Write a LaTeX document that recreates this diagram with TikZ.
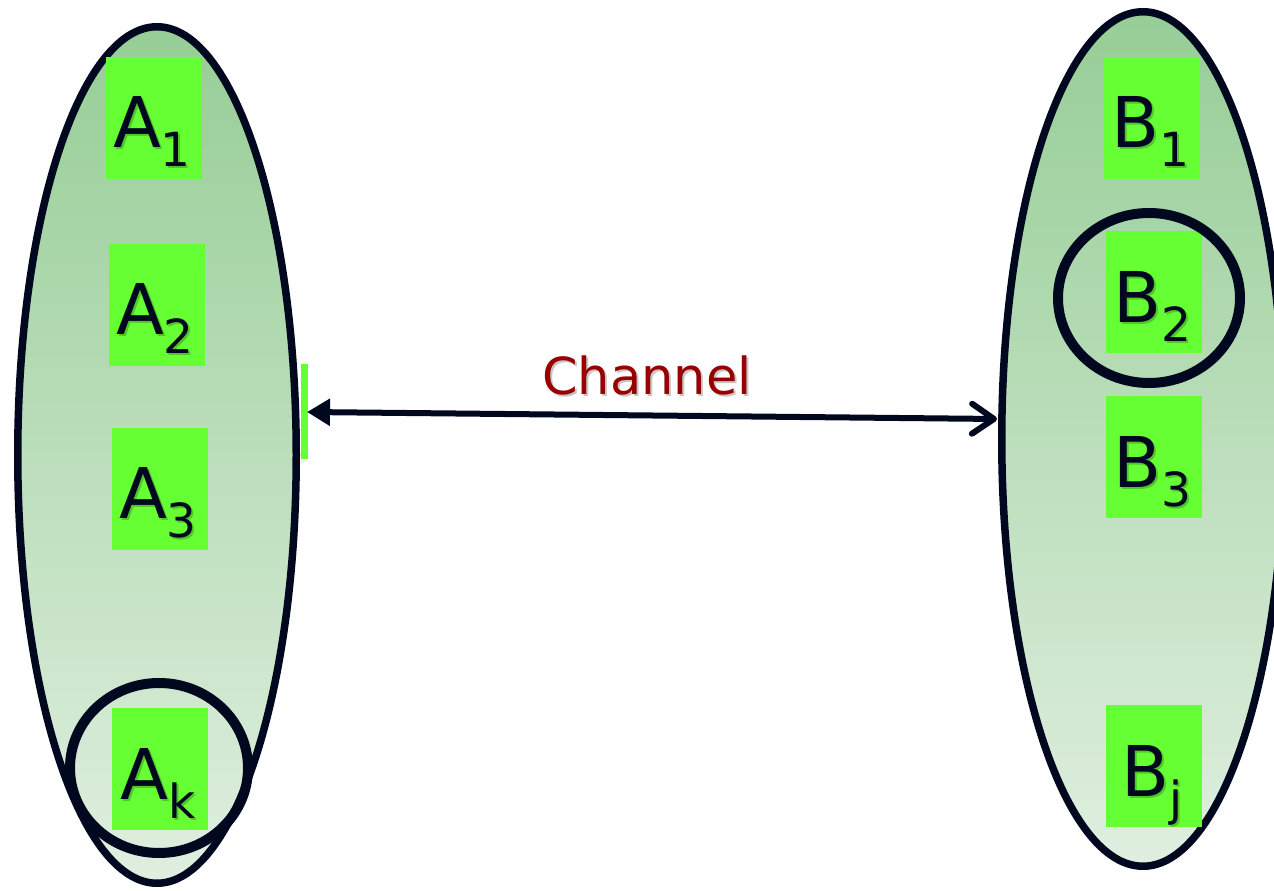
\documentclass[tikz,border=0pt]{standalone}
\usepackage{fontspec}
\setmainfont{DejaVu Sans}
\usetikzlibrary{shapes.geometric,arrows.meta,calc}
\definecolor{ink}{RGB}{0,8,32}
\definecolor{boxgreen}{RGB}{102,255,51}
\definecolor{topg}{RGB}{150,205,150}
\definecolor{botg}{RGB}{224,239,224}
\definecolor{chred}{RGB}{153,0,0}
\newcommand{\lbl}[2]{{\fontsize{70}{70}\selectfont #1}\raisebox{-19pt}{\fontsize{47}{47}\selectfont #2}}
\begin{document}
\begin{tikzpicture}[x=1pt,y=1pt,
  setshape/.style={ellipse, draw=ink, line width=7.5pt, top color=topg, bottom color=botg, inner sep=0pt},
  elem/.style={fill=boxgreen, minimum width=96pt, minimum height=122pt, inner sep=0pt},
  ring/.style={ellipse, draw=ink, line width=10pt, inner sep=0pt},
  lab/.style={anchor=base, text=ink, inner sep=0pt},
  shad/.style={anchor=base, text=black, opacity=0.22, inner sep=0pt}]
\useasboundingbox (0,0) rectangle (1274,891);
\clip (0,0) rectangle (1274,891);
% sets
\node[setshape, minimum width=278.5pt, minimum height=856.5pt] (SA) at (157,436) {};
\node[setshape, minimum width=282.5pt, minimum height=854.5pt] (SB) at (1143,452) {};
\node[fill=boxgreen, inner sep=0pt, minimum width=7pt, minimum height=95pt] (strip) at (304.5,479.5) {};
% elements
\foreach \n/\x/\y/\m/\s in {A1/154/773/A/1, A2/157/586/A/2, A3/160/402/A/3, Ak/160/121.5/A/k,
                            B1/1152/773/B/1, B2/1154/598.5/B/2, B3/1154/433.5/B/3, Bj/1154/124.5/B/j}{
  \node[elem] (\n) at (\x,\y) {};
  \node[shad] (s\n) at ($(\n.center)+(0,-32)$) {\lbl{\m}{\s}};
  \node[lab] (t\n) at ($(\n.center)+(-2,-30)$) {\lbl{\m}{\s}};
}
% rings
\node[ring, minimum width=178pt, minimum height=170pt] (RA) at (159,123) {};
\node[ring, minimum width=182pt, minimum height=170pt] (RB) at (1149,593) {};
% channel
\coordinate (chL) at (307,479);
\coordinate (chR) at (997,472);
\draw[ink, line width=6pt, {Triangle[length=23pt,width=26pt]}-{Straight Barb[length=22pt,width=30pt,round]}] (chL) -- (chR);
\node[anchor=base, text=black, opacity=0.22, inner sep=0pt, font=\fontsize{51}{51}\selectfont] (chans) at (649,494) {Channel};
\node[anchor=base, text=chred, inner sep=0pt, font=\fontsize{51}{51}\selectfont] (chan) at (647,496) {Channel};
\end{tikzpicture}
\end{document}
